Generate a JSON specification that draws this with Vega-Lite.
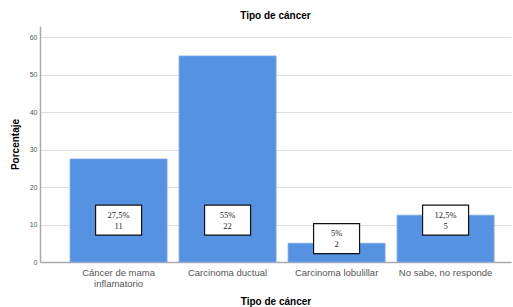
{
  "$schema": "https://vega.github.io/schema/vega-lite/v6.json",
  "width": 471,
  "height": 236,
  "autosize": "none",
  "padding": {"left": 40, "top": 26, "right": 2, "bottom": 45},
  "background": "white",
  "title": {"text": "Tipo de cáncer", "font": "Liberation Sans", "fontSize": 10, "fontWeight": "bold", "color": "#000000", "offset": 5, "anchor": "middle"},
  "config": {"view": {"stroke": null},
    "axisY": {"titleFont": "Liberation Sans", "titleFontSize": 10, "titleFontWeight": "bold", "titleColor": "#000", "titlePadding": 9,
      "labelOverlap": false, "labelFont": "Liberation Sans", "labelFontSize": 7, "labelColor": "#555555", "labelPadding": 3,
      "ticks": false, "domainColor": "#aaaaaa", "domainWidth": 1.5, "gridColor": "#dddddd", "gridWidth": 1.2}},
  "data": {"values": [
    {"tipo": "Cáncer de mama inflamatorio", "porcentaje": 27.5, "n": 11, "etiqueta": "27,5%\n11"},
    {"tipo": "Carcinoma ductual", "porcentaje": 55, "n": 22, "etiqueta": "55%\n22"},
    {"tipo": "Carcinoma lobulillar", "porcentaje": 5, "n": 2, "etiqueta": "5%\n2"},
    {"tipo": "No sabe, no responde", "porcentaje": 12.5, "n": 5, "etiqueta": "12,5%\n5"}
  ]},
  "transform": [{"calculate": "datum.porcentaje < 10 ? 6.25 : 11.2", "as": "posEtiqueta"}],
  "encoding": {
    "x": {"field": "tipo", "type": "nominal", "sort": null,
      "scale": {"type": "band", "paddingInner": 0.11, "paddingOuter": 0.2155, "align": 0.64},
      "axis": {"title": "Tipo de cáncer", "titleFont": "Liberation Sans", "titleFontSize": 10, "titleFontWeight": "bold", "titleColor": "#000", "titlePadding": 9,
        "labelAngle": 0, "labelFont": "Liberation Sans", "labelFontSize": 9.5, "labelColor": "#555555", "labelPadding": 5, "labelLineHeight": 11,
        "labelExpr": "datum.label == 'Cáncer de mama inflamatorio' ? ['Cáncer de mama', 'inflamatorio'] : datum.label",
        "ticks": false, "domainColor": "#aaaaaa", "domainWidth": 1.5, "grid": false}}
  },
  "layer": [
    {"mark": {"type": "bar", "color": "#5592e2", "stroke": "#7aa9ea", "strokeWidth": 0.8},
     "encoding": {"y": {"field": "porcentaje", "type": "quantitative",
       "scale": {"domain": [0, 63], "nice": false},
       "axis": {"title": "Porcentaje", "values": [0, 10, 20, 30, 40, 50, 60]}}}},
    {"mark": {"type": "point", "shape": "M-1,-0.652L1,-0.652L1,0.652L-1,0.652Z", "size": 2116, "filled": false, "fill": "white", "fillOpacity": 1, "stroke": "#111111", "strokeWidth": 1.2, "opacity": 1},
     "encoding": {"y": {"field": "posEtiqueta", "type": "quantitative", "axis": {"title": "Porcentaje", "values": [0, 10, 20, 30, 40, 50, 60]}}}},
    {"mark": {"type": "text", "font": "Liberation Serif", "fontSize": 8.5, "color": "#222222", "lineBreak": "\n", "lineHeight": 11, "baseline": "middle", "dy": -5.5},
     "encoding": {"y": {"field": "posEtiqueta", "type": "quantitative", "axis": {"title": "Porcentaje", "values": [0, 10, 20, 30, 40, 50, 60]}}, "text": {"field": "etiqueta"}}}
  ]
}
